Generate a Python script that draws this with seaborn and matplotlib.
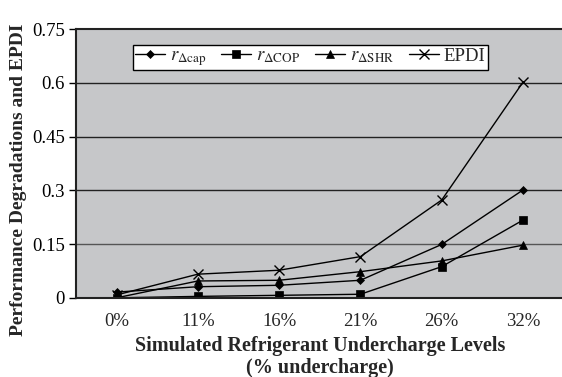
import matplotlib
matplotlib.use("Agg")
import matplotlib.pyplot as plt
import seaborn as sns
import pandas as pd

levels = ["0%", "11%", "16%", "21%", "26%", "32%"]
r_cap = [0.016, 0.031, 0.035, 0.049, 0.149, 0.301]
r_cop = [0.0, 0.004, 0.007, 0.010, 0.087, 0.217]
r_shr = [0.0, 0.047, 0.049, 0.073, 0.103, 0.147]
epdi = [0.008, 0.066, 0.077, 0.115, 0.273, 0.602]
series_labels = [r"$r_{\Delta\mathrm{cap}}$", r"$r_{\Delta\mathrm{COP}}$",
                 r"$r_{\Delta\mathrm{SHR}}$", "EPDI"]
yticks = [0, 0.15, 0.3, 0.45, 0.6, 0.75]
ytick_labels = ["0", "0.15", "0.3", "0.45", "0.6", "0.75"]

sns.set_theme(style="white")
plt.rcParams["font.family"] = ["Liberation Serif", "DejaVu Serif"]
plt.rcParams["mathtext.fontset"] = "stix"

fig = plt.figure(figsize=(5.62, 3.77), dpi=100)
ax = fig.add_axes([0.135, 0.21, 0.868, 0.713])
ax.set_facecolor("#c6c7c9")

markers = ["D", "s", "^", "x"]
msizes = [4.5, 5.5, 5.5, 7]
for vals, lab, mk, ms in zip([r_cap, r_cop, r_shr, epdi], series_labels, markers, msizes):
    df = pd.DataFrame({"level": levels, "value": vals})
    sns.lineplot(data=df, x="level", y="value", ax=ax, color="black", lw=1.0,
                 marker=mk, markersize=ms, markeredgecolor="black",
                 markeredgewidth=1.0 if mk == "x" else 0.5, label=lab, sort=False)

ax.set_xlim(-0.5, 5.5)
ax.set_ylim(0, 0.75)
ax.set_yticks(yticks)
ax.set_yticklabels(ytick_labels)
for y in yticks[1:-1]:
    ax.axhline(y, color="#222222" if y != 0.15 else "#555555", lw=1.0, zorder=0.5)

for s in ["left", "top", "bottom", "right"]:
    ax.spines[s].set_color("#222222")
    ax.spines[s].set_linewidth(1.5)
ax.tick_params(axis="y", which="both", left=True, length=5, width=1, colors="black",
               labelsize=13.5, pad=3)
ax.tick_params(axis="x", bottom=False, labelsize=13.5, pad=5)

ax.set_xlabel("Simulated Refrigerant Undercharge Levels\n(% undercharge)",
              fontsize=14.5, fontweight="bold", labelpad=4, linespacing=1.15)
ax.set_ylabel("Performance Degradations and EPDI", fontsize=14.0, fontweight="bold")
ax.yaxis.set_label_coords(-0.1, 0.44)

leg = ax.legend(loc="upper left", bbox_to_anchor=(0.117, 0.94), ncol=4, frameon=True,
                fancybox=False, edgecolor="black", facecolor="white", framealpha=1,
                fontsize=13.5, handlelength=1.6, handletextpad=0.25, columnspacing=0.8,
                borderpad=0.12, borderaxespad=0)
leg.get_frame().set_linewidth(1.0)

fig.savefig("out.png", dpi=100)
